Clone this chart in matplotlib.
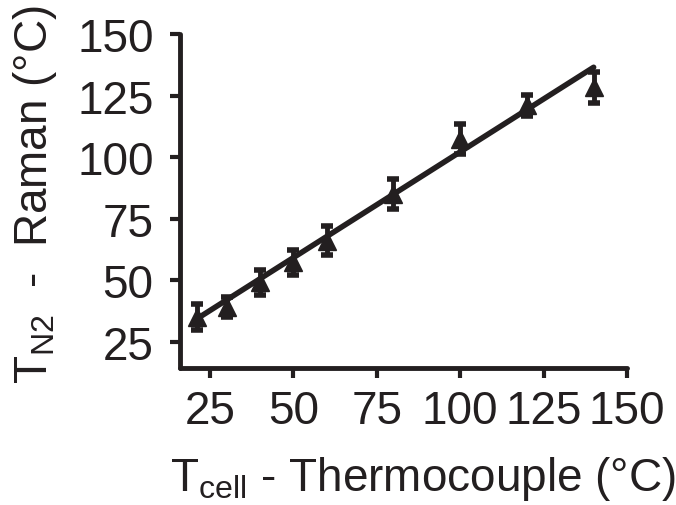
import matplotlib
matplotlib.use("Agg")
import matplotlib.pyplot as plt

plt.rcParams['font.family'] = ['Liberation Sans', 'DejaVu Sans']
plt.rcParams['mathtext.fontset'] = 'custom'
plt.rcParams['mathtext.rm'] = 'Liberation Sans'
plt.rcParams['mathtext.it'] = 'Liberation Sans'

# Data
t_cell = [21, 30, 40, 50, 60, 80, 100, 120, 140]
t_raman = [35.1, 39.2, 49.3, 57.4, 66.2, 85.1, 107.4, 121.0, 128.4]
t_err = [5.2, 4.0, 5.0, 5.0, 6.0, 6.2, 5.9, 4.2, 6.2]
fit_x = [21, 140]
fit_y = [34.4, 136.5]
x_ticks = [25, 50, 75, 100, 125, 150]
y_ticks = [25, 50, 75, 100, 125, 150]

fig = plt.figure(figsize=(6.76, 5.06), dpi=100)
ax = fig.add_axes([180/676, 137/506, (627-180)/676, (369-35)/506])

ink = '#231f20'
ax.plot(fit_x, fit_y, color=ink, lw=4, solid_capstyle='round', zorder=2)
ax.errorbar(t_cell, t_raman, yerr=t_err, fmt='^', color=ink, ms=13,
            elinewidth=3.5, capsize=4.5, capthick=4, zorder=3)

ax.set_xlim(16, 150)
ax.set_ylim(14.5, 150)
ax.set_xticks(x_ticks)
ax.set_yticks(y_ticks)
for s in ['top', 'right']:
    ax.spines[s].set_visible(False)
for s in ['left', 'bottom']:
    ax.spines[s].set_linewidth(3.5)
    ax.spines[s].set_color(ink)
    ax.spines[s].set_capstyle('round')
ax.tick_params(axis='both', direction='out', length=7, width=3, color=ink,
               labelsize=33, labelcolor=ink)
ax.tick_params(axis='y', pad=12)
ax.tick_params(axis='x', pad=8)

fig.text(0.625, 0.005, r'T$_{\mathrm{cell}}$ - Thermocouple (°C)', ha='center',
         va='bottom', fontsize=33, color=ink)
fig.text(0.052, 0.615, r'T$_{\mathrm{N2}}$  -  Raman (°C)', ha='center',
         va='center', rotation=90, fontsize=33, color=ink)

fig.savefig('out.png', dpi=100)
